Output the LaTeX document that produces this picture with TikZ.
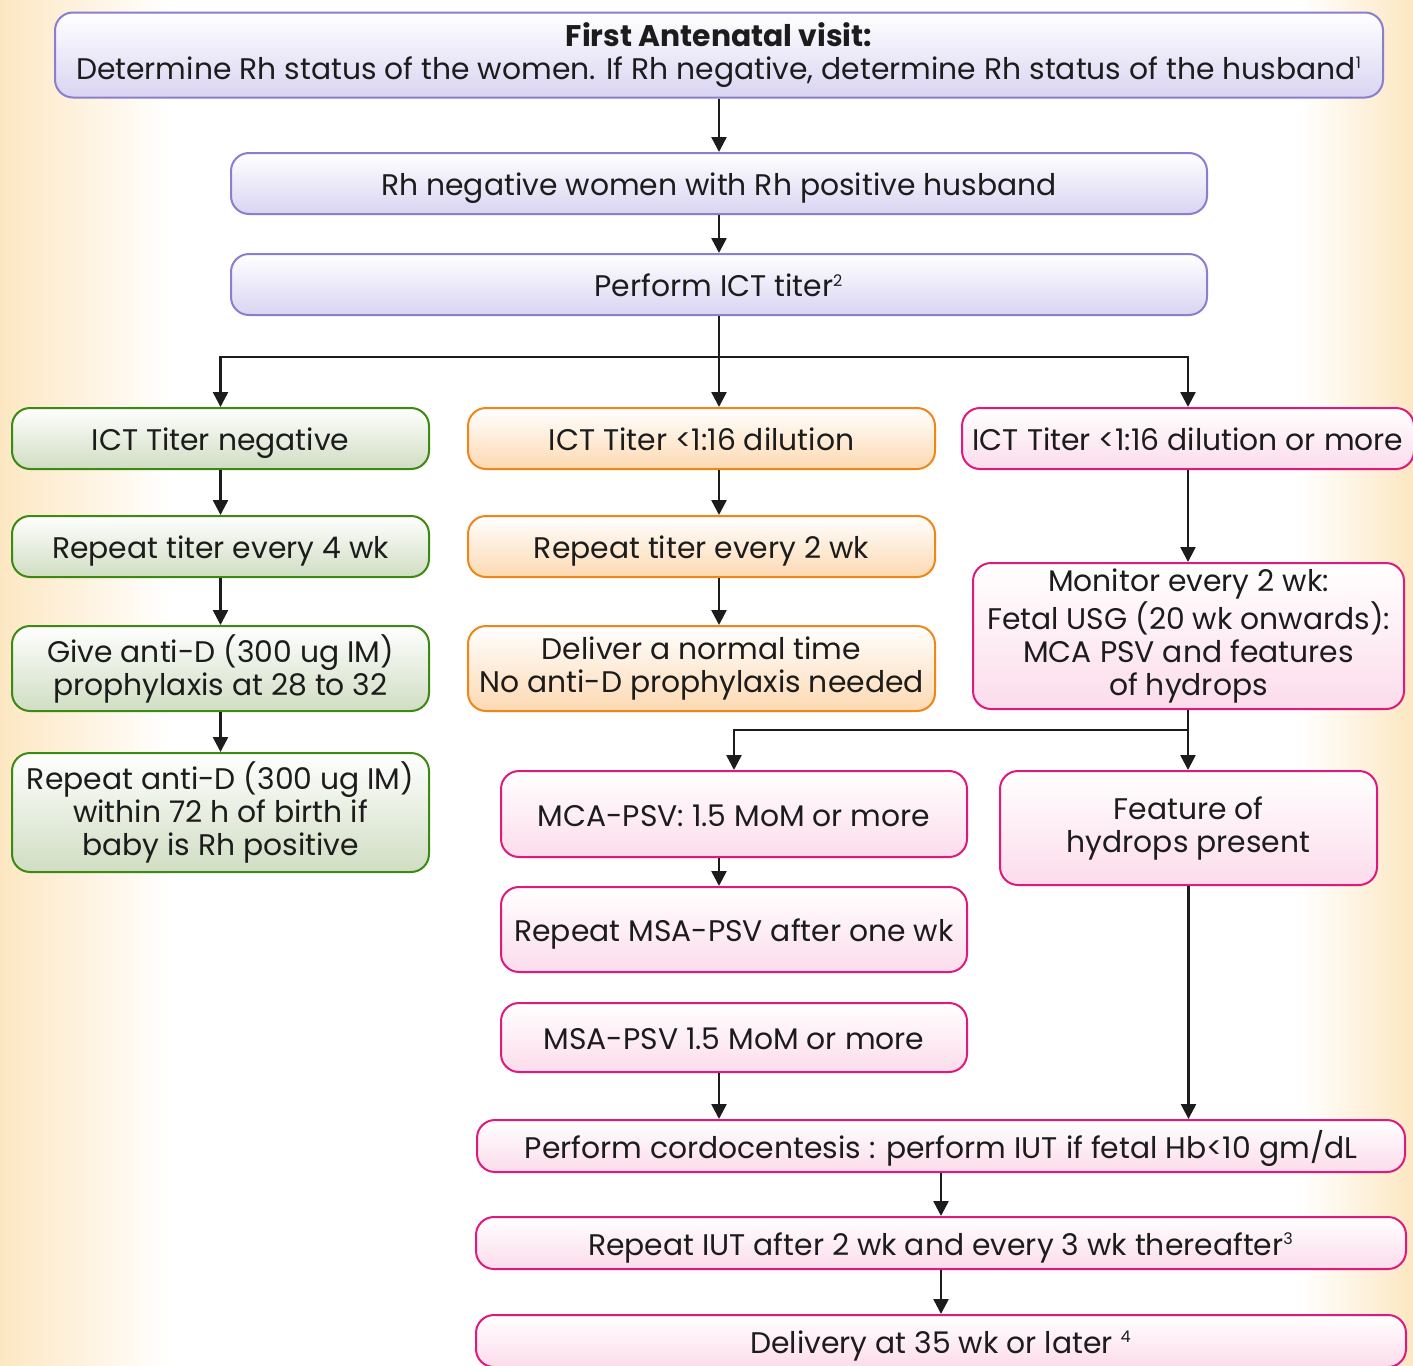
\documentclass[tikz,border=0pt]{standalone}
\usepackage{fontspec}
\setmainfont{Poppins}
\usetikzlibrary{arrows.meta, positioning, calc, shadings}
\definecolor{inkblk}{HTML}{1C1C1C}
\definecolor{bgorange}{HTML}{FDE7C2}
\definecolor{purpline}{HTML}{8A7ECF}
\definecolor{purpfill}{HTML}{DAD4F2}
\definecolor{grnline}{HTML}{3C8A12}
\definecolor{grnfill}{HTML}{D0DDC2}
\definecolor{orgline}{HTML}{F0861A}
\definecolor{orgfill}{HTML}{FDD9B2}
\definecolor{pnkline}{HTML}{E0197F}
\definecolor{pnkfill}{HTML}{FCDCEB}
\newcommand{\fnmark}[1]{\textsuperscript{\fontsize{8}{8}\selectfont #1}}

\tikzset{
  box/.style={rectangle, rounded corners=9pt, line width=1pt, align=center,
    inner sep=2pt, text=inkblk, font=\fontsize{14.9}{16.5}\selectfont},
  oneline/.style={text height=12pt, text depth=-2.5pt},
  purplebox/.style={box, draw=purpline, top color=white, bottom color=purpfill},
  greenbox/.style={box, draw=grnline, top color=white, bottom color=grnfill},
  orangebox/.style={box, draw=orgline, top color=white, bottom color=orgfill},
  pinkbox/.style={box, draw=pnkline, top color=white, bottom color=pnkfill},
  flow/.style={draw=inkblk, line width=1.25pt, -{Triangle[length=7.5pt, width=7.5pt]}},
  link/.style={draw=inkblk, line width=1.25pt}
}

\begin{document}
\begin{tikzpicture}[x=0.5pt, y=-0.5pt]

% Background
\useasboundingbox (0,0) rectangle (1413,1365);
\shade[left color=bgorange, right color=white] (0,0) rectangle (170,1365);
\shade[left color=white, right color=bgorange] (1300,0) rectangle (1413,1365);

% Top part
\node[purplebox, minimum width=664pt, minimum height=42.5pt] (visit) at (719,55)
  {\textbf{First Antenatal visit:}\\Determine Rh status of the women. If Rh negative, determine Rh status of the husband\fnmark{1}};
\node[purplebox, oneline, minimum width=488pt, minimum height=30.5pt] (rhneg) at (719,183.5)
  {Rh negative women with Rh positive husband};
\node[purplebox, oneline, minimum width=488pt, minimum height=30.5pt] (ict) at (719,284.5)
  {Perform ICT titer\fnmark{2}};

% Left column
\node[greenbox, oneline, minimum width=208.5pt, minimum height=30.5pt] (neg) at (220.5,438.5) {ICT Titer negative};
\node[greenbox, oneline, minimum width=208.5pt, minimum height=30.5pt] (every4) at (220.5,546.5) {Repeat titer every 4 wk};
\node[greenbox, minimum width=208.5pt, minimum height=42.5pt] (giveD) at (220.5,668.5)
  {Give anti-D (300 ug IM)\\prophylaxis at 28 to 32};
\node[greenbox, minimum width=208.5pt, minimum height=59.5pt] (repD) at (220.5,812.5)
  {Repeat anti-D (300 ug IM)\\within 72 h of birth if\\baby is Rh positive};

% Middle column
\node[orangebox, oneline, minimum width=233.5pt, minimum height=30.5pt] (low) at (701.5,438.5) {ICT Titer <1:16 dilution};
\node[orangebox, oneline, minimum width=233.5pt, minimum height=30.5pt] (every2) at (701.5,546.5) {Repeat titer every 2 wk};
\node[orangebox, minimum width=233.5pt, minimum height=42.5pt] (normal) at (701.5,668.5)
  {Deliver a normal time\\No anti-D prophylaxis needed};

% Right column
\node[pinkbox, oneline, minimum width=226pt, minimum height=30.5pt] (high) at (1188,438.5) {ICT Titer <1:16 dilution or more};
\node[pinkbox, minimum width=215.5pt, minimum height=73pt] (monitor) at (1188.5,636)
  {Monitor every 2 wk:\\Fetal USG (20 wk onwards):\\MCA PSV and features\\of hydrops};
\node[pinkbox, oneline, minimum width=233pt, minimum height=43pt] (mca) at (734,814) {MCA-PSV: 1.5 MoM or more};
\node[pinkbox, minimum width=188.5pt, minimum height=57pt] (hydrops) at (1188.5,828) {Feature of\\hydrops present};
\node[pinkbox, oneline, minimum width=233pt, minimum height=42.5pt] (rmsa) at (734,929.5) {Repeat MSA-PSV after one wk};
\node[pinkbox, oneline, minimum width=233pt, minimum height=34.5pt] (msa) at (734,1037.5) {MSA-PSV 1.5 MoM or more};

% Bottom part
\node[pinkbox, oneline, minimum width=464pt, minimum height=26pt] (cordo) at (941,1146)
  {Perform cordocentesis : perform IUT if fetal Hb<10 gm/dL};
\node[pinkbox, oneline, minimum width=465pt, minimum height=26pt] (iut) at (941,1243)
  {Repeat IUT after 2 wk and every 3 wk thereafter\fnmark{3}};
\node[pinkbox, oneline, minimum width=465pt, minimum height=26pt] (deliv) at (941,1341)
  {Delivery at 35 wk or later \fnmark{4}};

% Connectors
\coordinate (split) at (719,357);
\coordinate (split2) at (1188,730);
\draw[flow] (visit) -- (rhneg);
\draw[flow] (rhneg) -- (ict);
\draw[flow] (ict.south) -- (ict.south |- low.north);
\draw[flow] (split) -| (neg.north);
\draw[flow] (split) -| (high.north);
\draw[flow] (neg) -- (every4);
\draw[flow] (every4) -- (giveD);
\draw[flow] (giveD) -- (repD);
\draw[flow] (low.south -| ict.south) -- (every2.north -| ict.south);
\draw[flow] (every2.south -| ict.south) -- (normal.north -| ict.south);
\draw[flow] (high.south) -- (monitor.north -| high.south);
\draw[link] (monitor.south -| split2) -- (split2);
\draw[flow] (split2) -| (mca.north);
\draw[flow] (split2) -- (split2 |- hydrops.north);
\draw[flow] (mca.south -| ict.south) -- (rmsa.north -| ict.south);
\draw[flow] (msa.south -| ict.south) -- (cordo.north -| ict.south);
\draw[flow] (hydrops.south) -- (cordo.north -| hydrops.south);
\draw[flow] (cordo) -- (iut);
\draw[flow] (iut) -- (deliv);

\end{tikzpicture}
\end{document}
